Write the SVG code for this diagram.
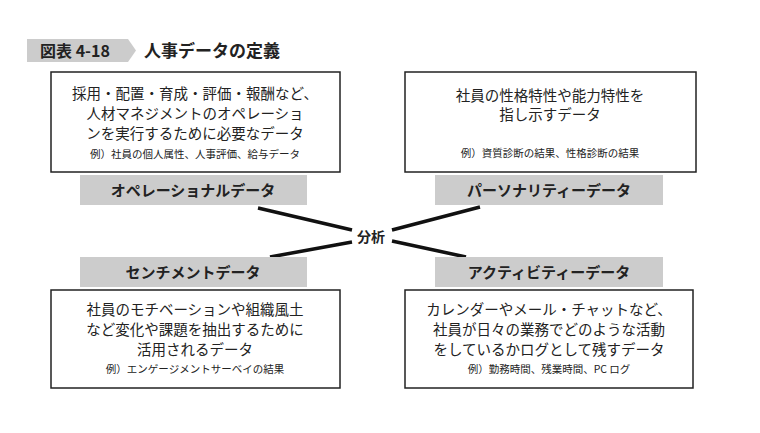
<svg xmlns="http://www.w3.org/2000/svg" width="760" height="433" viewBox="0 0 760 433">
<style>
text{font-family:"Noto Sans CJK JP","Noto Sans",sans-serif;fill:#222}
.box{fill:#fff;stroke:#222;stroke-width:1.5}
.bar{fill:#ccc}
.t{font-size:14.5px;text-anchor:middle}
.e{font-size:10.5px;text-anchor:middle}
.l{font-size:15px;font-weight:bold;text-anchor:middle}
.c{stroke:#111;stroke-width:3.5;fill:none}
</style>
<rect width="760" height="433" fill="#fff"/>
<g id="title">
<polygon points="27,39 128,39 136,50.5 128,62 27,62" fill="#ccc"/>
<text x="40" y="57" font-size="16" font-weight="bold">図表 4-18</text>
<text x="144" y="57" font-size="17" font-weight="bold">人事データの定義</text>
</g>
<g id="connectors">
<path class="c" d="M258,208 L352,230 M352,242 L270,257 M480,207 L392,230 M392,241 L466,257"/>
</g>
<g id="center"><text x="371" y="242" font-size="14" font-weight="bold" text-anchor="middle">分析</text></g>
<g id="operational">
<rect class="box" x="51" y="72" width="289" height="100"/>
<text class="t" x="195" y="99">採用・配置・育成・評価・報酬など、</text>
<text class="t" x="195" y="119">人材マネジメントのオペレーショ</text>
<text class="t" x="195" y="139">ンを実行するために必要なデータ</text>
<text class="e" x="195" y="158">例）社員の個人属性、人事評価、給与データ</text>
<rect class="bar" x="80" y="175" width="227" height="30"/>
<text class="l" x="193" y="196">オペレーショナルデータ</text>
</g>
<g id="personality">
<rect class="box" x="405" y="72" width="291" height="100"/>
<text class="t" x="550" y="101">社員の性格特性や能力特性を</text>
<text class="t" x="550" y="120">指し示すデータ</text>
<text class="e" x="550" y="157">例）資質診断の結果、性格診断の結果</text>
<rect class="bar" x="435" y="175" width="228" height="30"/>
<text class="l" x="549" y="196">パーソナリティーデータ</text>
</g>
<g id="sentiment">
<rect class="bar" x="80" y="257" width="227" height="30"/>
<text class="l" x="193" y="278">センチメントデータ</text>
<rect class="box" x="51" y="290" width="289" height="98"/>
<text class="t" x="195" y="315">社員のモチベーションや組織風土</text>
<text class="t" x="195" y="335">など変化や課題を抽出するために</text>
<text class="t" x="195" y="355">活用されるデータ</text>
<text class="e" x="195" y="373">例）エンゲージメントサーベイの結果</text>
</g>
<g id="activity">
<rect class="bar" x="435" y="257" width="228" height="30"/>
<text class="l" x="549" y="278">アクティビティーデータ</text>
<rect class="box" x="405" y="290" width="288" height="98"/>
<text class="t" x="549" y="315">カレンダーやメール・チャットなど、</text>
<text class="t" x="549" y="335">社員が日々の業務でどのような活動</text>
<text class="t" x="549" y="355">をしているかログとして残すデータ</text>
<text class="e" x="549" y="373">例）勤務時間、残業時間、PC ログ</text>
</g>
</svg>
